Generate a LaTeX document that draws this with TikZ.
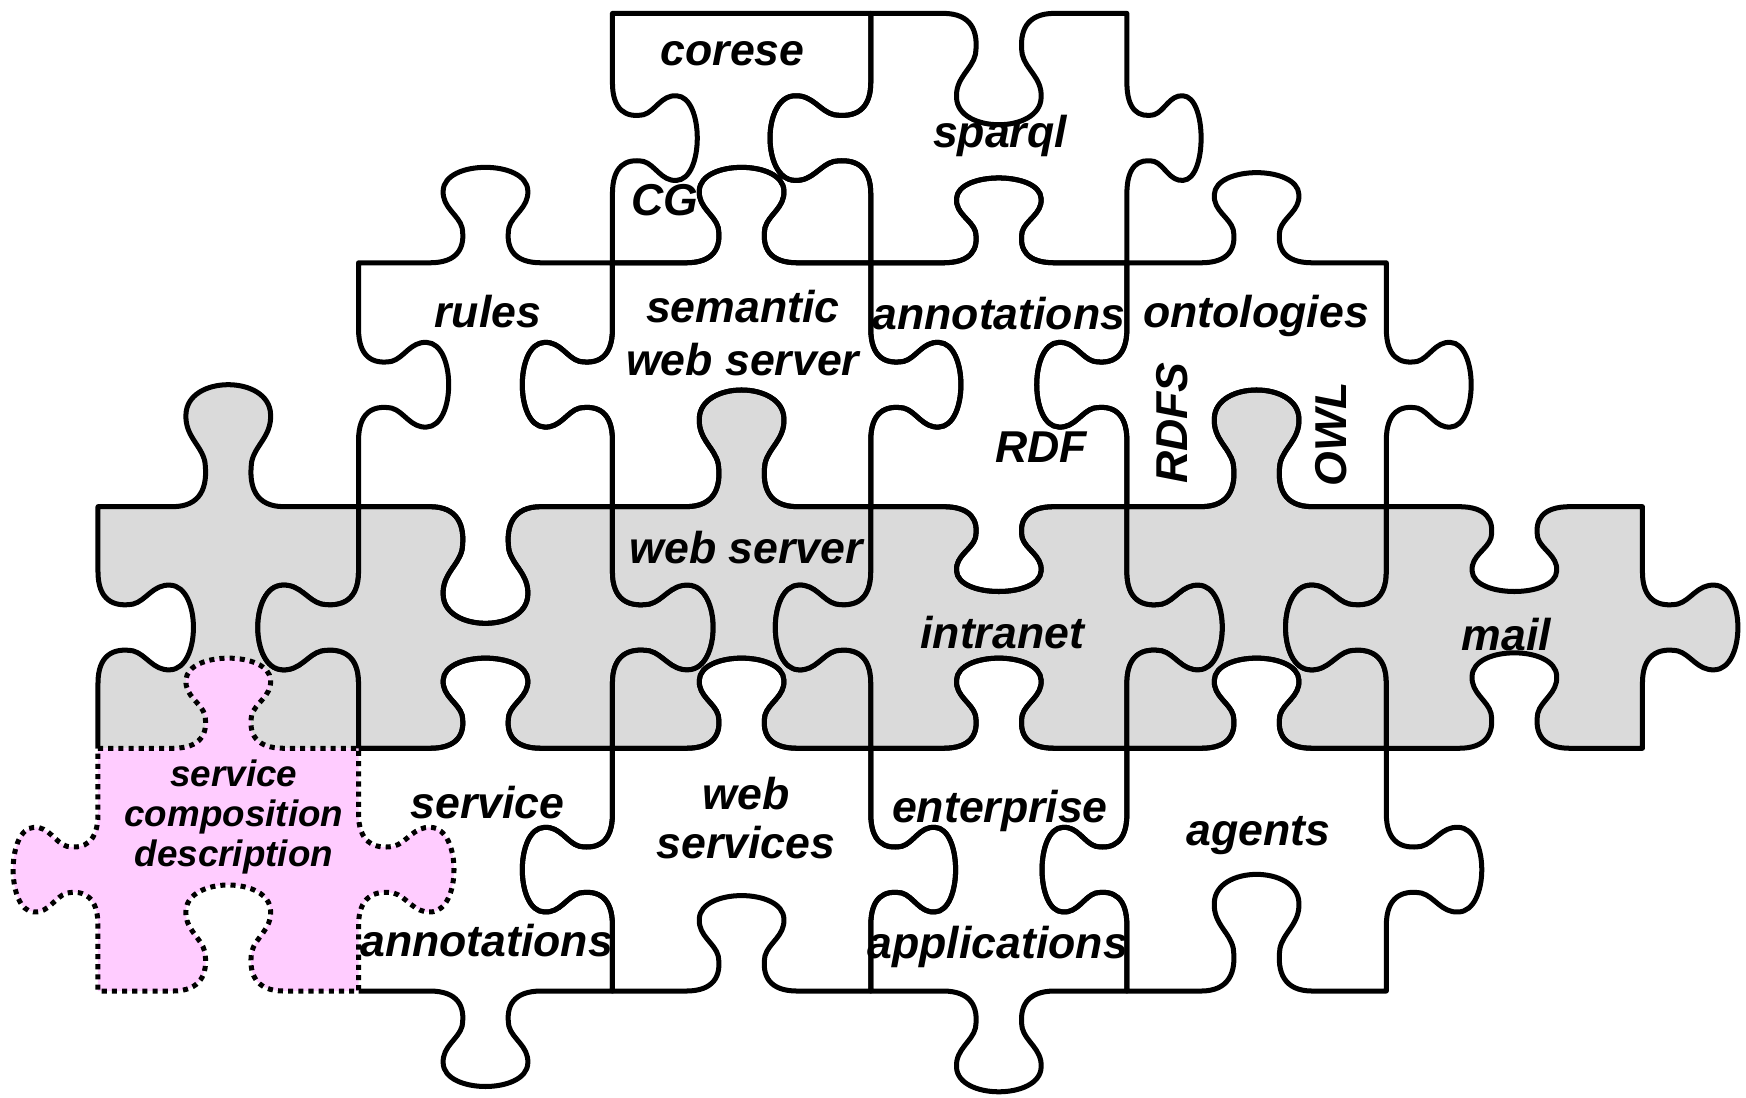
\documentclass[tikz,border=0pt]{standalone}
\usepackage{fontspec}
\setmainfont{Liberation Sans}
\definecolor{piecegray}{RGB}{218,218,218}
\definecolor{piecepink}{RGB}{255,204,255}
% edge from #1 to #2 at height #3, tab #4 (+ down, - up, 0 flat)
\newcommand\hedge[4]{%
  -- ({(#1+#2)/2-50*sign(#2-#1)},#3)
  .. controls ({(#1+#2)/2-25*sign(#2-#1)},#3) and ({(#1+#2)/2-18*sign(#2-#1)},{#3+15*(#4)}) .. ({(#1+#2)/2-21*sign(#2-#1)},{#3+35*(#4)})
  .. controls ({(#1+#2)/2-24*sign(#2-#1)},{#3+48*(#4)}) and ({(#1+#2)/2-39*sign(#2-#1)},{#3+55*(#4)}) .. ({(#1+#2)/2-38*sign(#2-#1)},{#3+72*(#4)})
  .. controls ({(#1+#2)/2-37*sign(#2-#1)},{#3+103*(#4)}) and ({(#1+#2)/2+37*sign(#2-#1)},{#3+103*(#4)}) .. ({(#1+#2)/2+38*sign(#2-#1)},{#3+72*(#4)})
  .. controls ({(#1+#2)/2+39*sign(#2-#1)},{#3+55*(#4)}) and ({(#1+#2)/2+24*sign(#2-#1)},{#3+48*(#4)}) .. ({(#1+#2)/2+21*sign(#2-#1)},{#3+35*(#4)})
  .. controls ({(#1+#2)/2+18*sign(#2-#1)},{#3+15*(#4)}) and ({(#1+#2)/2+25*sign(#2-#1)},#3) .. ({(#1+#2)/2+50*sign(#2-#1)},#3)
  -- (#2,#3)}
% edge from #1 to #2 at x #3, tab #4 (+ right, - left, 0 flat)
\newcommand\vedge[4]{%
  -- (#3,{(#1+#2)/2-50*sign(#2-#1)})
  .. controls (#3,{(#1+#2)/2-25*sign(#2-#1)}) and ({#3+15*(#4)},{(#1+#2)/2-18*sign(#2-#1)}) .. ({#3+35*(#4)},{(#1+#2)/2-21*sign(#2-#1)})
  .. controls ({#3+48*(#4)},{(#1+#2)/2-24*sign(#2-#1)}) and ({#3+55*(#4)},{(#1+#2)/2-39*sign(#2-#1)}) .. ({#3+72*(#4)},{(#1+#2)/2-38*sign(#2-#1)})
  .. controls ({#3+103*(#4)},{(#1+#2)/2-37*sign(#2-#1)}) and ({#3+103*(#4)},{(#1+#2)/2+37*sign(#2-#1)}) .. ({#3+72*(#4)},{(#1+#2)/2+38*sign(#2-#1)})
  .. controls ({#3+55*(#4)},{(#1+#2)/2+39*sign(#2-#1)}) and ({#3+48*(#4)},{(#1+#2)/2+24*sign(#2-#1)}) .. ({#3+35*(#4)},{(#1+#2)/2+21*sign(#2-#1)})
  .. controls ({#3+15*(#4)},{(#1+#2)/2+18*sign(#2-#1)}) and (#3,{(#1+#2)/2+25*sign(#2-#1)}) .. (#3,{(#1+#2)/2+50*sign(#2-#1)})
  -- (#3,#2)}
% left x, right x, top y, bottom y, then tabs: top, right, bottom, left
\newcommand\puzzlepiece[8]{(#1,#3) \hedge{#1}{#2}{#3}{#5} \vedge{#3}{#4}{#2}{#6} \hedge{#2}{#1}{#4}{#7} \vedge{#4}{#3}{#1}{#8} -- cycle}
\begin{document}
\begin{tikzpicture}[x=0.1mm, y=-0.1mm, line width=0.45mm, line join=round,
    piece/.style={draw=black},
    graypiece/.style={fill=piecegray, draw=black},
    pinkpiece/.style={fill=piecepink, draw=black, dash pattern=on 1.3pt off 1.3pt},
    lbl/.style={font=\bfseries\itshape\fontsize{11.4}{13.7}\selectfont, align=center, inner sep=0pt}]
  \useasboundingbox (0,0) rectangle (1568,986);

  \fill[piecegray] \puzzlepiece{88}{322}{455}{672}{-1.15}{-0.95}{-0.85}{0.9};
  \draw (88,672) \vedge{672}{455}{88}{0.9} \hedge{88}{322}{455}{-1.15} \vedge{455}{672}{322}{-0.95};
  \draw[graypiece] \puzzlepiece{322}{550}{455}{672}{1.1}{0.95}{-0.85}{-0.95};
  \draw[graypiece] \puzzlepiece{550}{782}{455}{672}{-1.1}{-0.9}{-0.85}{0.95};
  \draw[graypiece] \puzzlepiece{782}{1012}{455}{672}{0.8}{0.9}{-0.85}{-0.9};
  \draw[graypiece] \puzzlepiece{1012}{1245}{455}{672}{-1.1}{-0.95}{-0.85}{0.9};
  \draw[graypiece] \puzzlepiece{1245}{1475}{455}{672}{0.8}{0.9}{-0.9}{-0.95};

  \draw[piece] \puzzlepiece{550}{782}{12}{236}{0}{-0.95}{-0.9}{0.8};
  \draw[piece] \puzzlepiece{782}{1012}{12}{236}{1.05}{0.7}{-0.8}{-0.95};
  \draw[piece] \puzzlepiece{322}{550}{236}{455}{-0.9}{-0.85}{1.1}{0.85};
  \draw[piece] \puzzlepiece{550}{782}{236}{455}{-0.9}{0.85}{-1.1}{-0.85};
  \draw[piece] \puzzlepiece{782}{1012}{236}{455}{-0.8}{-0.85}{0.8}{0.85};
  \draw[piece] \puzzlepiece{1012}{1245}{236}{455}{-0.85}{0.8}{-1.1}{-0.85};

  \draw (322,672) \hedge{322}{550}{672}{-0.85} \vedge{672}{890}{550}{-0.85} \hedge{550}{322}{890}{0.9};
  \draw[piece] \puzzlepiece{550}{782}{672}{890}{-0.85}{0.8}{-0.9}{-0.85};
  \draw[piece] \puzzlepiece{782}{1012}{672}{890}{-0.85}{-0.8}{0.95}{0.8};
  \draw[piece] \puzzlepiece{1012}{1245}{672}{890}{-0.85}{0.9}{-1.1}{-0.8};

  \draw[pinkpiece] \puzzlepiece{88}{322}{672}{890}{-0.85}{0.9}{-1}{-0.8};

  \node[lbl] (corese) at (658,48) {corese};
  \node[lbl] (cg) at (597,180) {CG};
  \node[lbl] (sparql) at (898,122) {sparql};
  \node[lbl] (rules) at (438,280) {rules};
  \node[lbl] (sws) at (667,299) {semantic\\web server};
  \node[lbl] (annot) at (897,282) {annotations};
  \node[lbl] (onto) at (1128,284) {ontologies};
  \node[lbl] (rdf) at (935,402) {RDF};
  \node[lbl, rotate=90] (rdfs) at (1053,380) {RDFS};
  \node[lbl, rotate=90] (owl) at (1195,390) {OWL};
  \node[lbl] (websrv) at (670,492) {web server};
  \node[lbl] (intranet) at (900,568) {intranet};
  \node[lbl] (mail) at (1353,570) {mail};
  \node[lbl] (service) at (438,721) {service};
  \node[lbl] (annot2) at (437,845) {annotations};
  \node[lbl, font=\bfseries\itshape\fontsize{11.4}{12.5}\selectfont] (websvc) at (670,735) {web\\services};
  \node[lbl] (enterprise) at (898,728) {enterprise};
  \node[lbl] (apps) at (896,850) {applications};
  \node[lbl] (agents) at (1130,750) {agents};
  \node[lbl, font=\bfseries\itshape\fontsize{9.4}{10.2}\selectfont] (scd) at (210,734) {service\\composition\\description};
\end{tikzpicture}
\end{document}
